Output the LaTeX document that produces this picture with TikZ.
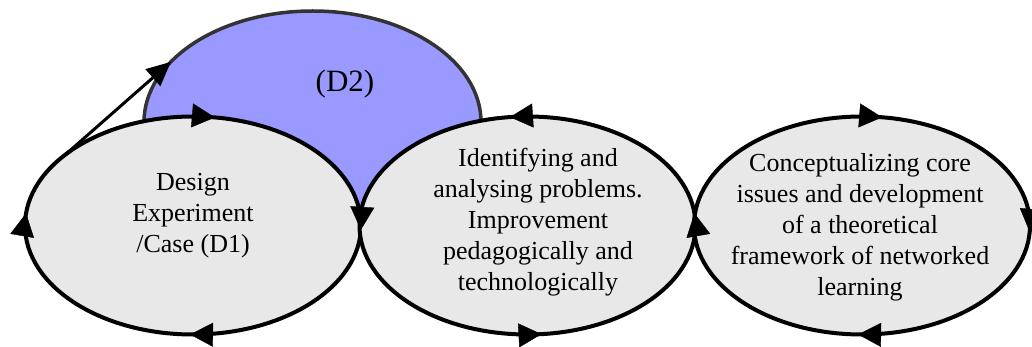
\documentclass[tikz,border=0pt]{standalone}
\usepackage{fontspec}
\setmainfont{Liberation Serif}
\usetikzlibrary{shapes.geometric,decorations.markings,arrows.meta}
\definecolor{blueD}{HTML}{9999FF}
\definecolor{greyE}{HTML}{E8E8E8}
\definecolor{rimD}{HTML}{333333}
\begin{document}
\begin{tikzpicture}[x=1pt,y=-1pt,
  >={Triangle[length=23pt,width=24pt]},
  stage/.style={ellipse, inner sep=0pt, outer sep=0pt, minimum width=336pt, minimum height=218pt, fill=greyE, draw=black, line width=4pt},
  lbl/.style={align=center, font=\fontsize{26}{31}\selectfont, inner sep=0pt},
  ]
\useasboundingbox (0,0) rectangle (1032,347);
\node[ellipse, inner sep=0pt, outer sep=0pt, minimum width=337pt, minimum height=222pt, fill=blueD, draw=rimD, line width=3.5pt] (d2) at (312.5,122) {};
\node[lbl, font=\fontsize{31}{36}\selectfont] (d2t) at (345,84) {(D2)};
\node[stage] (e1) at (193,225.5) {};
\node[stage] (e2) at (527.5,225.5) {};
\node[stage] (e3) at (862,225.5) {};
% arrowheads along the cycles
\path[decoration={markings,
  mark=at position 0.005 with {\arrow{>}},
  mark=at position 0.2534 with {\arrow{>}},
  mark=at position 0.514 with {\arrow{>}},
  mark=at position 0.775 with {\arrow{>}}}, decorate]
  (e1.east) arc[start angle=0, end angle=360, x radius=168, y radius=109];
\path[decoration={markings,
  mark=at position 0.014 with {\arrow{>}},
  mark=at position 0.27 with {\arrow{>}},
  mark=at position 0.766 with {\arrow{>}}}, decorate]
  (e2.east) arc[start angle=0, end angle=-360, x radius=168, y radius=109];
\path[decoration={markings,
  mark=at position 0.0074 with {\arrow{>}},
  mark=at position 0.2545 with {\arrow{>}},
  mark=at position 0.773 with {\arrow{>}}}, decorate]
  (e3.east) arc[start angle=0, end angle=360, x radius=168, y radius=109];
\draw[line width=3pt, -{Triangle[length=24pt,width=22pt]}] (e1.151) -- (d2.157);
\node[lbl] (t1) at (193,216) {Design\\Experiment\\/Case (D1)};
\node[lbl] (t2) at (538,222) {Identifying and\\analysing problems.\\Improvement\\pedagogically and\\technologically};
\node[lbl] (t3) at (860,227) {Conceptualizing core\\issues and development\\of a theoretical\\framework of networked\\learning};
\end{tikzpicture}
\end{document}
